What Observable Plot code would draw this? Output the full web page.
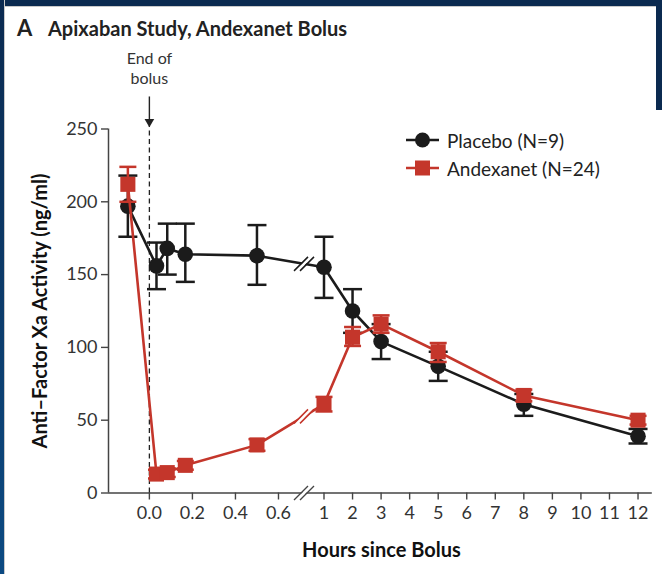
<!DOCTYPE html>
<html>
<head>
<meta charset="utf-8">
<script src="https://cdn.jsdelivr.net/npm/d3@7"></script>
<script src="https://cdn.jsdelivr.net/npm/@observablehq/plot@0.6"></script>
<style>
  body { margin: 0; background: #fff; }
  #page { position: relative; width: 662px; height: 574px; overflow: hidden; background: #fff; font-family: Lato, "Open Sans", sans-serif; }
  .bT { position: absolute; left: 0; top: 0; width: 662px; height: 6px; background: #0b2a50; border-bottom: 1px solid #c9c9c9; }
  .bL { position: absolute; left: 0; top: 0; width: 4px; height: 574px; background: linear-gradient(#0b2a50, #0c4a82); border-right: 1px solid #c9c9c9; }
  .bR { position: absolute; right: 0; top: 0; width: 6px; height: 110px; background: #0b2a50; }
  #title { position: relative; height: 44px; }
  #title .lab { position: absolute; left: 17px; top: 15px; font-weight: bold; font-size: 22px; color: #222; line-height: 26px; }
  #title .txt { position: absolute; left: 48px; top: 15px; font-weight: bold; font-size: 20px; color: #222; line-height: 26px; }
  #legend { position: absolute; left: 406px; top: 126px; font-size: 19px; color: #222; }
  #legend .row { display: flex; align-items: center; height: 28px; }
  #legend svg { margin-right: 7px; }
  #chart svg { display: block; overflow: visible; }
</style>
</head>
<body>
<div id="page">
  <div id="title"><span class="lab">A</span><span class="txt">Apixaban Study, Andexanet Bolus</span></div>
  <div id="chart"></div>
  <div id="legend"></div>
  <div class="bT"></div><div class="bL"></div><div class="bR"></div>
</div>
<script>
// ---- data (hours since bolus; anti-factor Xa activity, ng/ml) ----
const hours        = [-0.1, 0.033, 0.083, 0.167, 0.5, 1, 2, 3, 5, 8, 12];
const placeboMean  = [197, 156, 168, 164, 163, 155, 125, 104, 87, 61, 39];
const placeboLow   = [176, 140, 150, 145, 143, 134, 110, 92, 77, 53, 34];
const placeboHigh  = [218, 172, 185, 185, 184, 176, 140, 116, 97, 68, 44];
const andexMean    = [212, 13, 14, 19, 33, 61, 107, 116, 97, 67, 50];
const andexLow     = [200, 10, 11, 16, 29, 56, 101, 110, 90, 63, 47];
const andexHigh    = [224, 16, 17, 22, 37, 66, 114, 122, 103, 71, 53];

const seriesNames  = ["Placebo (N=9)", "Andexanet (N=24)"];
const xTickValues  = [0, 0.2, 0.4, 0.6, 1, 2, 3, 4, 5, 6, 7, 8, 9, 10, 11, 12];
const xTickLabels  = ["0.0", "0.2", "0.4", "0.6", "1", "2", "3", "4", "5", "6", "7", "8", "9", "10", "11", "12"];
const yTickValues  = [0, 50, 100, 150, 200, 250];
const bolusEnd     = 0;
const bolusLabel   = "End of\nbolus";
const axisBreak    = 0.75;

// broken (piecewise) time axis
const xDomain = [-0.19, 0.7, 1, 12.5];
const xRange  = [108, 299.5, 323.5, 651.8];

const BLACK = "#1b1b1b", RED = "#c4362b", AXIS = "#444";

const rows = (mean, lo, hi) => hours.map((h, i) => ({hour: h, mean: mean[i], lo: lo[i], hi: hi[i]}));
const placebo = rows(placeboMean, placeboLow, placeboHigh);
const andex = rows(andexMean, andexLow, andexHigh);

// where a series line crosses the axis break (interpolated in pixel space)
const px = d3.scaleLinear().domain(xDomain).range(xRange);
function breakPoint(data) {
  const i = data.findIndex((d, k) => d.hour < axisBreak && data[k + 1].hour > axisBreak);
  const a = data[i], b = data[i + 1];
  const t = (px(axisBreak) - px(a.hour)) / (px(b.hour) - px(a.hour));
  return {x: axisBreak, y: a.mean + t * (b.mean - a.mean)};
}

const cap = w => ({draw(ctx) { ctx.moveTo(-w, 0); ctx.lineTo(w, 0); }});
const slashes = {draw(ctx) { ctx.moveTo(-10, 7); ctx.lineTo(4, -7); ctx.moveTo(-4, 7); ctx.lineTo(10, -7); }};
const gap = {draw(ctx) { ctx.moveTo(-9, 7); ctx.lineTo(5, -7); ctx.lineTo(9, -7); ctx.lineTo(-5, 7); ctx.closePath(); }};

function seriesMarks(data, color, symbol, r, capW) {
  const br = [breakPoint(data)];
  return [
    Plot.line(data, {x: "hour", y: "mean", stroke: color, strokeWidth: 2.6}),
    Plot.dot(br, {x: "x", y: "y", symbol: gap, fill: "white", stroke: "none"}),
    Plot.dot(br, {x: "x", y: "y", symbol: slashes, stroke: color, strokeWidth: 1.5, fill: "none"}),
    Plot.ruleX(data, {x: "hour", y1: "lo", y2: "hi", stroke: color, strokeWidth: 2.5}),
    Plot.dot(data, {x: "hour", y: "lo", symbol: cap(capW), stroke: color, strokeWidth: 2.5, fill: "none"}),
    Plot.dot(data, {x: "hour", y: "hi", symbol: cap(capW), stroke: color, strokeWidth: 2.5, fill: "none"}),
    Plot.dot(data, {x: "hour", y: "mean", symbol, r, fill: color, stroke: "none"})
  ];
}

const chart = Plot.plot({
  width: 662,
  height: 530,
  marginLeft: 108,
  marginRight: 10.2,
  marginTop: 84.5,
  marginBottom: 81.5,
  style: {fontFamily: "Lato, 'Open Sans', sans-serif", fontSize: "18px", color: "#333", background: "transparent", overflow: "visible"},
  x: {type: "linear", domain: xDomain, range: xRange},
  y: {domain: [0, 250]},
  marks: [
    Plot.axisX({ticks: xTickValues, tickFormat: d => xTickLabels[xTickValues.indexOf(d)], tickSize: 7, tickPadding: 6, strokeWidth: 1.4, stroke: AXIS, fill: "#333", fontSize: 18, label: null}),
    Plot.axisY({ticks: yTickValues, tickSize: 7, tickPadding: 4, strokeWidth: 1.4, stroke: AXIS, fill: "#333", fontSize: 18, label: null}),
    Plot.ruleY([0], {x1: xDomain[0], x2: xDomain[xDomain.length - 1], stroke: AXIS, strokeWidth: 1.5}),
    Plot.ruleX([xDomain[0]], {y1: 0, y2: 250, stroke: AXIS, strokeWidth: 1.5}),
    Plot.dot([{x: axisBreak, y: 0}], {x: "x", y: "y", symbol: gap, fill: "white", stroke: "none"}),
    Plot.dot([{x: axisBreak, y: 0}], {x: "x", y: "y", symbol: slashes, stroke: AXIS, strokeWidth: 1.4, fill: "none"}),
    // end of bolus marker
    Plot.ruleX([bolusEnd], {x: d => d, y1: 0, y2: 253, stroke: "#222", strokeWidth: 1.3, strokeDasharray: "5,3.5"}),
    Plot.ruleX([bolusEnd], {x: d => d, y1: 256, y2: 272, stroke: "#222", strokeWidth: 1.4}),
    Plot.dot([bolusEnd], {x: d => d, y: 255, symbol: "triangle", rotate: 180, r: 3.6, fill: "#222", stroke: "none"}),
    Plot.text([bolusEnd], {x: d => d, text: () => bolusLabel, frameAnchor: "top", lineAnchor: "top", dy: -79, lineHeight: 1.25, fontSize: 16, fill: "#333"}),
    // series
    ...seriesMarks(placebo, BLACK, "circle", 7.8, 9.5),
    ...seriesMarks(andex, RED, "square", 8.5, 8.5),
    // axis titles
    Plot.text(["Anti–Factor Xa Activity (ng/ml)"], {frameAnchor: "left", textAnchor: "middle", lineAnchor: "middle", rotate: -90, dx: -68, fontWeight: "bold", fontSize: 20, fill: "#111"}),
    Plot.text(["Hours since Bolus"], {frameAnchor: "bottom", textAnchor: "middle", lineAnchor: "middle", dy: 57.5, dx: 1, fontWeight: "bold", fontSize: 20, fill: "#111"})
  ]
});
document.getElementById("chart").appendChild(chart);

// legend
const legend = d3.select("#legend");
[[seriesNames[0], BLACK, "circle"], [seriesNames[1], RED, "square"]].forEach(([name, color, shape]) => {
  const row = legend.append("div").attr("class", "row");
  const s = row.append("svg").attr("width", 34).attr("height", 18);
  s.append("line").attr("x1", 0).attr("x2", 33).attr("y1", 9).attr("y2", 9).attr("stroke", color).attr("stroke-width", 2.6);
  if (shape === "circle") s.append("circle").attr("cx", 16.5).attr("cy", 9).attr("r", 7.5).attr("fill", color);
  else s.append("rect").attr("x", 9).attr("y", 1.5).attr("width", 15).attr("height", 15).attr("fill", color);
  row.append("span").text(name);
});
</script>
</body>
</html>
